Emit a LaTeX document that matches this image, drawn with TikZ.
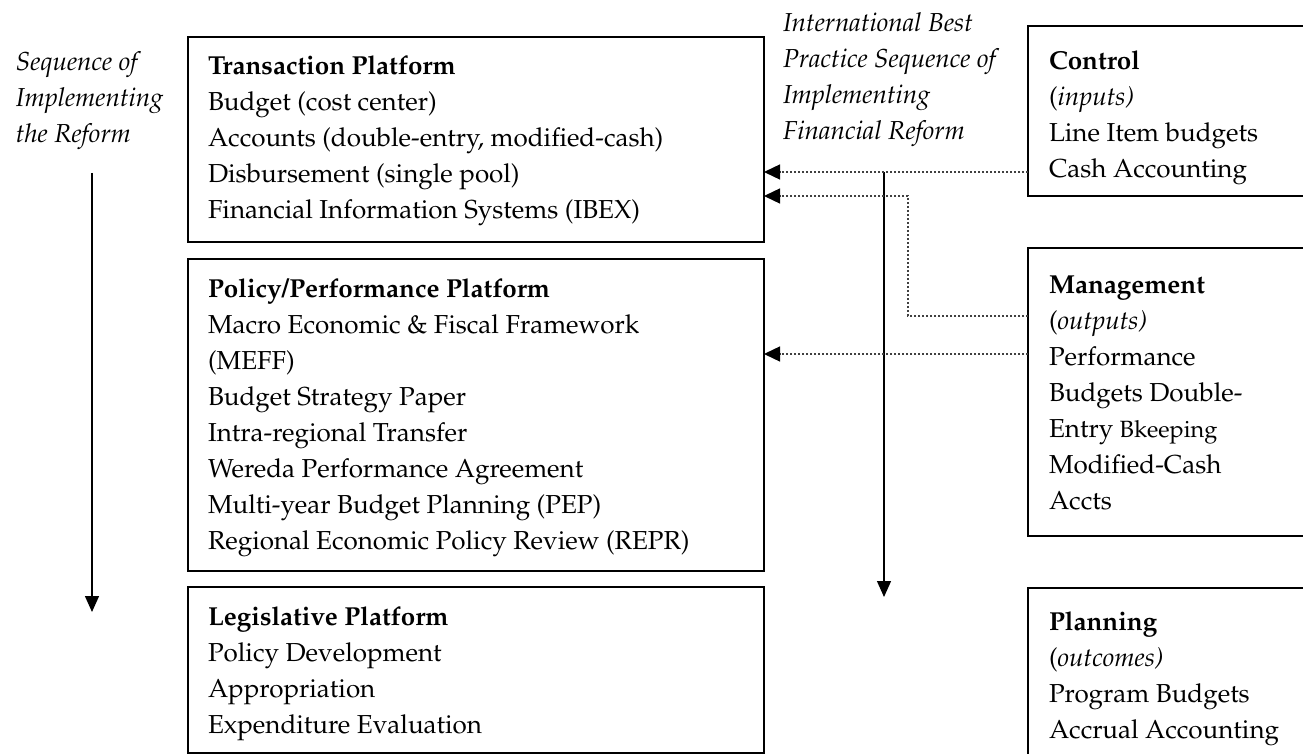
\documentclass[tikz,border=0pt]{standalone}
\usepackage[T1]{fontenc}
\renewcommand{\rmdefault}{ppl}
\usetikzlibrary{arrows.meta}
% left-aligned column whose baseline is that of its first row
\newcommand{\rowsof}[1]{\begin{tabular}[t]{@{}l@{}}#1\end{tabular}}
\begin{document}
\begin{tikzpicture}[x=1pt,y=-1pt,
  every node/.style={inner sep=0pt,outer sep=0pt},
  panel/.style={draw,line width=1.6pt,rectangle,anchor=north west},
  lines/.style={anchor=base west,font=\fontsize{26}{36}\selectfont},
  flow/.style={line width=1.3pt,-{Triangle[length=16pt,width=14pt]}},
  feed/.style={line width=1.4pt,black!75,dash pattern=on 1.6pt off 2.4pt,
    -{Triangle[length=16pt,width=15pt,fill=black,color=black]}}
]
\clip (0,0) rectangle (1303,754);
\fill[white] (0,0) rectangle (1303,754);

% platforms, left column
\node[panel,minimum width=576pt,minimum height=205pt] (trans) at (188,37) {};
\node[panel,minimum width=576pt,minimum height=312pt] (policy) at (188,259) {};
\node[panel,minimum width=576pt,minimum height=166pt] (legis) at (188,587) {};

% reform stages, right column
\node[panel,minimum width=320pt,minimum height=170pt] (ctrl) at (1028,26) {};
\node[panel,minimum width=320pt,minimum height=288pt] (mgmt) at (1028,248) {};
\node[panel,minimum width=320pt,minimum height=200pt] (plan) at (1028,588) {};

% texts
\node[lines] (seq) at (16,71) {\rowsof{\textit{Sequence of}\\\textit{Implementing}\\\textit{the Reform}}};
\node[lines] (intl) at (783,32) {\rowsof{\textit{International Best}\\\textit{Practice Sequence of}\\\textit{Implementing}\\\textit{Financial Reform}}};

\node[lines] (transtxt) at (208,75) {\rowsof{\textbf{Transaction Platform}\\
  Budget (cost center)\\
  Accounts (double-entry, modified-cash)\\
  Disbursement (single pool)\\
  Financial Information Systems (IBEX)}};
\node[lines] (policytxt) at (208,297) {\rowsof{\textbf{Policy/Performance Platform}\\
  Macro Economic \& Fiscal Framework\\
  (MEFF)\\
  Budget Strategy Paper\\
  Intra-regional Transfer\\
  Wereda Performance Agreement\\
  Multi-year Budget Planning (PEP)\\
  Regional Economic Policy Review (REPR)}};
\node[lines] (legistxt) at (208,625) {\rowsof{\textbf{Legislative Platform}\\
  Policy Development\\
  Appropriation\\
  Expenditure Evaluation}};

\node[lines] (ctrltxt) at (1049,70) {\rowsof{\textbf{Control}\\
  (\textit{inputs)}\\
  Line Item budgets\\
  Cash Accounting}};
\node[lines] (mgmttxt) at (1049,293) {\rowsof{\textbf{Management}\\
  (\textit{outputs)}\\
  Performance\\
  Budgets Double-\\
  Entry {\fontsize{23.5}{36}\selectfont Bkeeping}\\
  Modified-Cash\\
  Accts}};
\node[lines] (plantxt) at (1049,630) {\rowsof{\textbf{Planning}\\
  (\textit{outcomes)}\\
  Program Budgets\\
  Accrual Accounting}};

% sequence arrows
\coordinate (seqtop) at (92,173);
\coordinate (seqend) at (92,612);
\draw[flow] (seqtop) -- (seqend);

\coordinate (besttop) at (884,172);
\coordinate (bestend) at (884,597);
\draw[flow] (besttop) -- (bestend);

% feeds from the reform stages into the platforms
\coordinate (bend) at (908,316);
\draw[feed] (ctrl.west |- 0,172) -- (trans.east |- 0,172);
\draw[feed] (mgmt.west |- 0,316) -- (bend) -- (bend |- 0,196) -- (trans.east |- 0,196);
\draw[feed] (mgmt.west |- 0,354) -- (policy.east |- 0,354);
\end{tikzpicture}
\end{document}
